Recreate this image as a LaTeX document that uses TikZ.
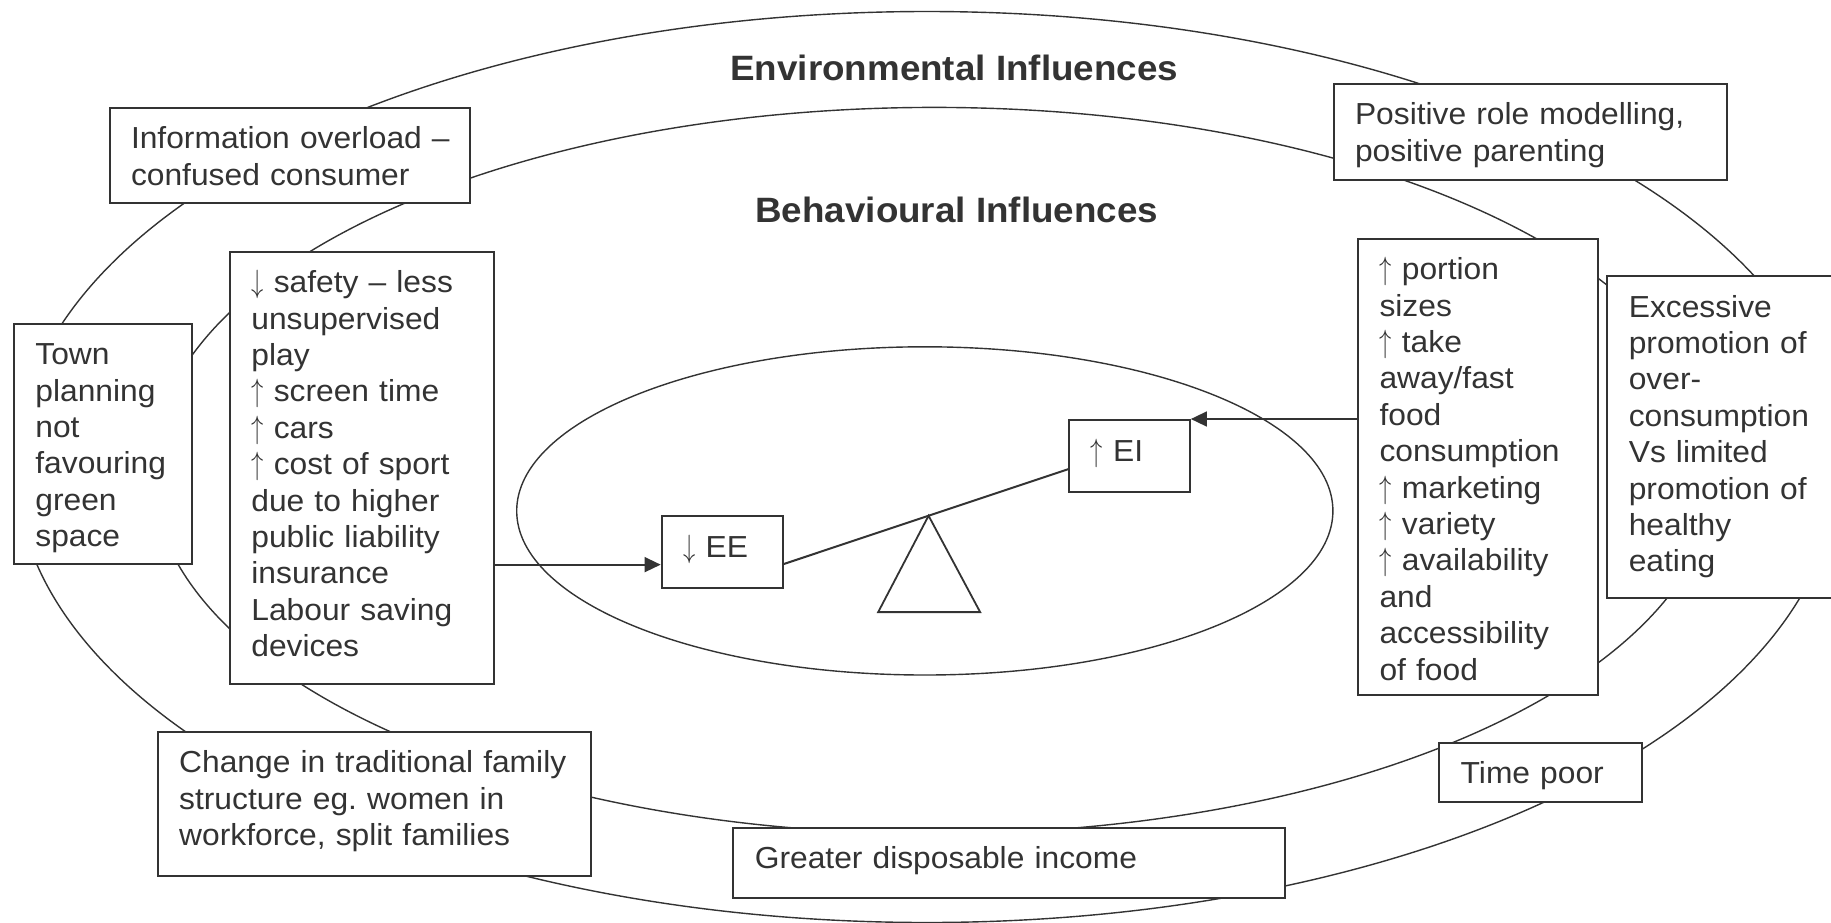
\documentclass[tikz,border=0pt]{standalone}
\usepackage{fontspec}
\usepackage{graphicx}
\setmainfont{Liberation Sans}[FakeStretch=1.045]
\usetikzlibrary{calc,arrows.meta}
\definecolor{ink}{HTML}{333333}
\frenchspacing
\newcommand\bodyfont{\fontsize{15.2pt}{18.2pt}\selectfont}
\newcommand\headfont{\fontsize{17.6pt}{21pt}\selectfont\bfseries}
\newcommand\cardlines[1]{\begin{tabular}[t]{@{}l@{}}#1\end{tabular}}
% thin, tall arrows for "increase" and "decrease"
\newcommand\upar{\scalebox{0.85}[1.12]{$\uparrow$}}
\newcommand\dnar{\scalebox{0.85}[1.12]{$\downarrow$}}
\begin{document}
\begin{tikzpicture}[x=0.5pt,y=-0.5pt,
  ring/.style={draw=ink, line width=0.7pt},
  card/.style={draw=ink, line width=1pt, fill=white, anchor=north west,
    inner xsep=10.75pt, inner ysep=0pt, text height=20.5pt, text=ink,
    font=\bodyfont, align=left},
  heading/.style={anchor=base west, inner sep=0pt, text=ink, font=\headfont},
  link/.style={draw=ink, line width=1pt, -{Triangle[length=8pt,width=7.4pt]}},
  beam/.style={draw=ink, line width=1pt},
  fulcrum/.style={draw=ink, line width=0.9pt, line join=miter},
]
\useasboundingbox (0,0) rectangle (1831,922);

% nested influence rings
\draw[ring] (927,467) ellipse [x radius=455.5pt, y radius=227.75pt];
\draw[ring] (934.2,470.6) ellipse [x radius=391.2pt, y radius=181.6pt];
\draw[ring] (924.8,510.9) ellipse [x radius=204.05pt, y radius=82.05pt];

% environmental factors (outer ring)
\node[card, text width=158.85pt, text depth=27.15pt] (info) at (108.5,106.7)
  {\cardlines{Information overload –\\confused consumer}};
\node[card, text width=67.4pt, text depth=99.8pt] (town) at (12.9,322.7)
  {\cardlines{Town\\planning\\not\\favouring\\green\\space}};
\node[card, text width=195.05pt, text depth=51.65pt] (family) at (156.7,730.7)
  {\cardlines{Change in traditional family\\structure eg. women in\\workforce, split families}};
\node[card, text width=254.25pt, text depth=14.5pt] (income) at (732.3,826.7)
  {\cardlines{Greater disposable income}};
\node[card, text width=79.7pt, text depth=9pt] (timepoor) at (1438.2,741.7)
  {\cardlines{Time poor}};
\node[card, text width=100.35pt, text depth=140.35pt] (promo) at (1606.3,275)
  {\cardlines{Excessive\\promotion of\\over-\\consumption\\Vs limited\\promotion of\\healthy\\eating}};
\node[card, text width=175.1pt, text depth=27.65pt] (role) at (1332.5,82.7)
  {\cardlines{Positive role modelling,\\positive parenting}};

% behavioural factors (middle ring)
\node[card, text width=110.55pt, text depth=195.5pt] (activity) at (228.9,250.7)
  {\cardlines{\dnar{} safety – less\\unsupervised\\play\\\upar{} screen time\\\upar{} cars\\\upar{} cost of sport\\due to higher\\public liability\\insurance\\Labour saving\\devices}};
\node[card, text width=98.35pt, text depth=207.65pt] (food) at (1357,237.7)
  {\cardlines{\upar{} portion\\sizes\\\upar{} take\\away/fast\\food\\consumption\\\upar{} marketing\\\upar{} variety\\\upar{} availability\\and\\accessibility\\of food}};

% energy balance
\node[card, text width=39pt, text depth=15.65pt] (ee) at (660.7,515)
  {\cardlines{\dnar{} EE}};
\node[card, text width=38.75pt, text depth=15.35pt] (ei) at (1068.3,419)
  {\cardlines{\upar{} EI}};

% ring headings
\node[heading] (envtitle) at (730,80) {Environmental Influences};
\node[heading] (behtitle) at (755,222.7) {Behavioural Influences};

% see-saw
\coordinate (lvl) at ($(ee.north east)!0.66!(ee.south east)$);
\coordinate (lvr) at ($(ei.north west)!0.68!(ei.south west)$);
\draw[beam] (lvl) -- (lvr);
\coordinate (apex) at ($(lvl)!0.509!(lvr)$);
\draw[fulcrum] (apex) -- ++(-50.4,96.4) -- ++(102,0) -- cycle;

% influences acting on the balance
\coordinate (eein) at ($(ee.north west)!0.668!(ee.south west)$);
\draw[link] (activity.east |- eein) -- (eein);
\draw[link] (food.west |- ei.north east) -- (ei.north east);
\end{tikzpicture}
\end{document}
